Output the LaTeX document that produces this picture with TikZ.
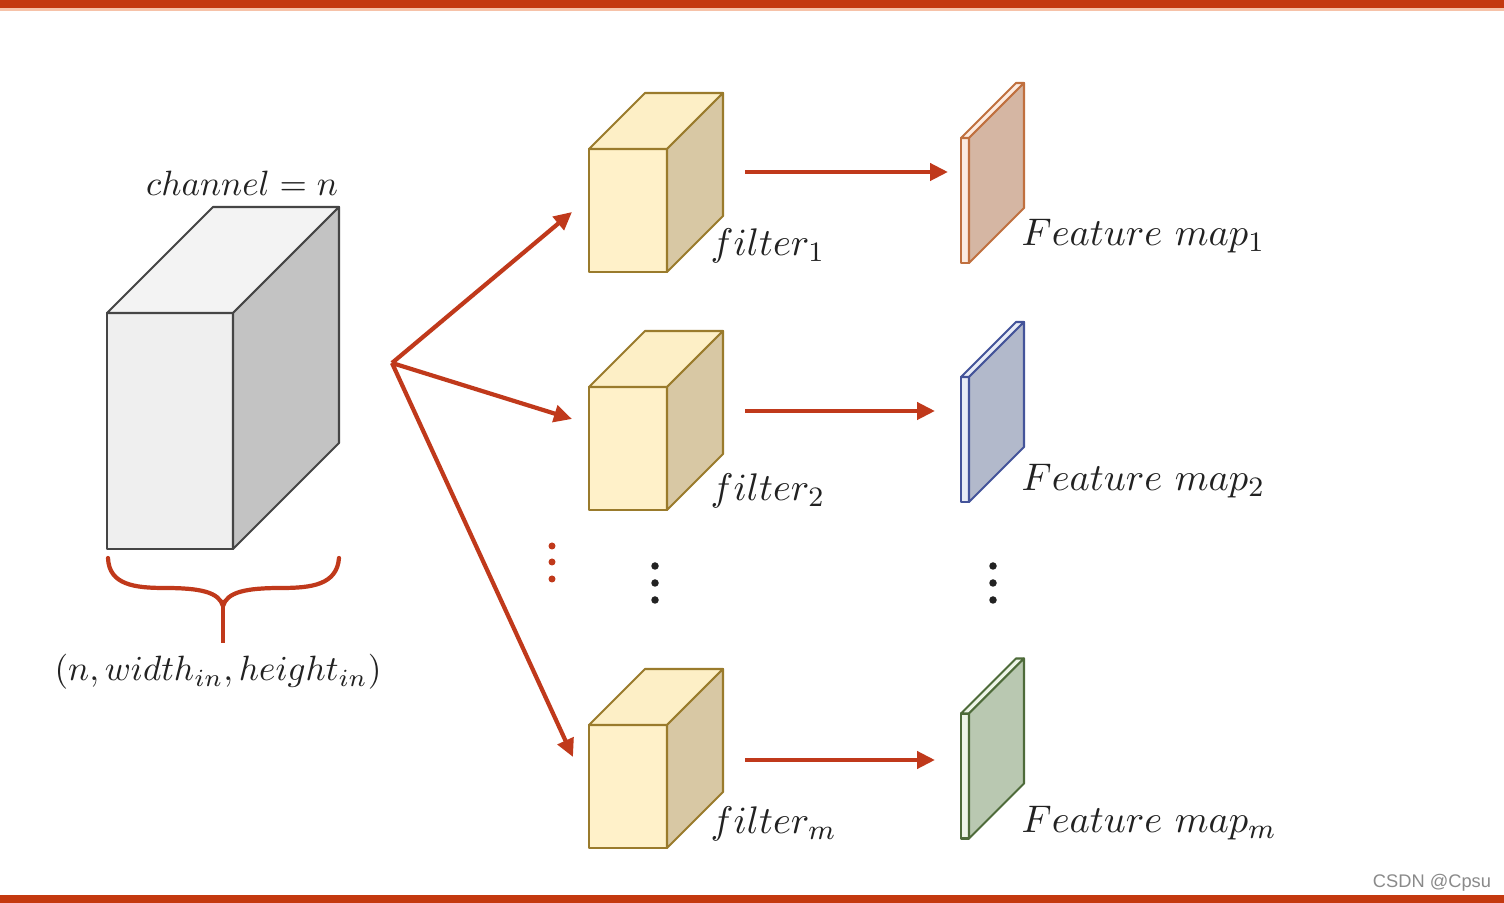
\documentclass[tikz,border=0pt]{standalone}
\usepackage{fontspec}
\newfontfamily\wmfont{Liberation Sans}
\usetikzlibrary{arrows.meta}
\definecolor{barred}{HTML}{C4390F}
\definecolor{barlight}{HTML}{F6C2A8}
\definecolor{arrowred}{HTML}{C0391B}
\definecolor{cubeline}{HTML}{454545}
\definecolor{cubefront}{HTML}{EFEFEF}
\definecolor{cubetop}{HTML}{F3F3F3}
\definecolor{cubeside}{HTML}{C3C3C3}
\definecolor{filline}{HTML}{9A7B2C}
\definecolor{filfront}{HTML}{FFF1C9}
\definecolor{filtop}{HTML}{FDEFC6}
\definecolor{filside}{HTML}{D8C8A4}
\definecolor{fmaline}{HTML}{C0703F}
\definecolor{fmaside}{HTML}{D5B6A3}
\definecolor{fmastrip}{HTML}{FCEBE0}
\definecolor{fmbline}{HTML}{44549A}
\definecolor{fmbside}{HTML}{B2B9CB}
\definecolor{fmbstrip}{HTML}{E8ECF6}
\definecolor{fmcline}{HTML}{4E6B3A}
\definecolor{fmcside}{HTML}{B9C8B1}
\definecolor{fmcstrip}{HTML}{EEF5E8}
\definecolor{textdark}{HTML}{222222}
\definecolor{wmgray}{HTML}{8A8A8A}
\begin{document}
\begin{tikzpicture}[x=0.1mm,y=-0.1mm,
  redarrow/.style={draw=arrowred, line width=1.2pt, -{Triangle[length=1.8mm,width=1.7mm]}},
  face/.style={line width=0.6pt, line join=round},
  frontbox/.style={face, rectangle, inner sep=0pt, outer sep=0pt},
  lbl/.style={font=\fontsize{11}{13}\selectfont, text=textdark, inner sep=0pt},
  smalllbl/.style={font=\fontsize{10.3}{12}\selectfont, text=textdark, inner sep=0pt},
  reddot/.style={circle, fill=arrowred, inner sep=0pt, minimum size=0.7mm},
  blackdot/.style={circle, fill=textdark, inner sep=0pt, minimum size=0.75mm}]
\useasboundingbox (0,0) rectangle (1504,903);
\fill[white] (0,0) rectangle (1504,903);
% bars
\fill[barlight] (0,7) rectangle (1504,11);
\fill[barred] (0,0) rectangle (1504,8);
\fill[barred] (0,895) rectangle (1504,903);

% input cube
\node[frontbox, draw=cubeline, fill=cubefront, minimum width=12.6mm, minimum height=23.6mm] (inp) at (170,431) {};
\filldraw[face, draw=cubeline, fill=cubetop] (inp.north west) -- ++(106,-106) -- ++(126,0) -- (inp.north east) -- cycle;
\filldraw[face, draw=cubeline, fill=cubeside] (inp.north east) -- ++(106,-106) -- ++(0,236) -- (inp.south east) -- cycle;
\node[smalllbl] (chan) at (242,183) {$channel = n$};

% brace
\draw[arrowred, line width=1.2pt, line cap=round]
  (108,558) .. controls (109,585) and (135,588) .. (165,588)
  .. controls (200,588) and (219,592) .. (223,606)
  .. controls (227,592) and (246,588) .. (281,588)
  .. controls (311,588) and (337,585) .. (339,558);
\draw[arrowred, line width=1.2pt] (223,600) -- (223,643);
\node[smalllbl] (shape) at (218,672) {$(n, width_{in}, height_{in})$};

% filters
\foreach \nm/\cy in {f1/210.5, f2/448.5, fm/786.5}{
  \node[frontbox, draw=filline, fill=filfront, minimum width=7.8mm, minimum height=12.3mm] (\nm) at (628,\cy) {};
  \filldraw[face, draw=filline, fill=filtop] (\nm.north west) -- ++(56,-56) -- ++(78,0) -- (\nm.north east) -- cycle;
  \filldraw[face, draw=filline, fill=filside] (\nm.north east) -- ++(56,-56) -- ++(0,123) -- (\nm.south east) -- cycle;
}
\node[lbl, anchor=west] (f1l) at (710,246) {$filter_1$};
\node[lbl, anchor=west] (f2l) at (710,491) {$filter_2$};
\node[lbl, anchor=west] (fml) at (710,824) {$filter_m$};

% feature maps
\foreach \nm/\cy/\ln/\sd/\st in {fma/200.5/fmaline/fmaside/fmastrip, fmb/439.5/fmbline/fmbside/fmbstrip, fmc/776/fmcline/fmcside/fmcstrip}{
  \node[frontbox, draw=\ln, fill=\st, minimum width=0.8mm, minimum height=12.5mm] (\nm) at (965,\cy) {};
  \filldraw[face, draw=\ln, fill=\st] (\nm.north west) -- ++(55,-55) -- ++(8,0) -- (\nm.north east) -- cycle;
  \filldraw[face, draw=\ln, fill=\sd] (\nm.north east) -- ++(55,-55) -- ++(0,125) -- (\nm.south east) -- cycle;
}
\node[lbl, anchor=west] (fmal) at (1021,236) {$Feature\ map_1$};
\node[lbl, anchor=west] (fmbl) at (1021,481) {$Feature\ map_2$};
\node[lbl, anchor=west] (fmcl) at (1021,823) {$Feature\ map_m$};

% arrows from input
\coordinate (src) at (392,363);
\coordinate (t1) at (572,212);
\coordinate (t2) at (572,419);
\coordinate (t3) at (573,757);
\draw[redarrow] (src) -- (t1);
\draw[redarrow] (src) -- (t2);
\draw[redarrow] (src) -- (t3);

% arrows filter -> feature map
\coordinate (h1s) at (745,172); \coordinate (h1e) at (948,172);
\coordinate (h2s) at (745,411); \coordinate (h2e) at (935,411);
\coordinate (h3s) at (745,760); \coordinate (h3e) at (935,760);
\draw[redarrow] (h1s) -- (h1e);
\draw[redarrow] (h2s) -- (h2e);
\draw[redarrow] (h3s) -- (h3e);

% dots
\foreach \i/\y in {1/546,2/562,3/579}{\node[reddot] (rd\i) at (552,\y) {};}
\foreach \i/\y in {1/566,2/583,3/600}{\node[blackdot] (bd\i) at (655,\y) {};}
\foreach \i/\y in {1/566,2/583,3/600}{\node[blackdot] (cd\i) at (993,\y) {};}

% watermark
\node[font=\wmfont\fontsize{5.2}{6}\selectfont, text=wmgray, inner sep=0pt] (wm) at (1432,883) {CSDN @Cpsu};
\end{tikzpicture}
\end{document}
